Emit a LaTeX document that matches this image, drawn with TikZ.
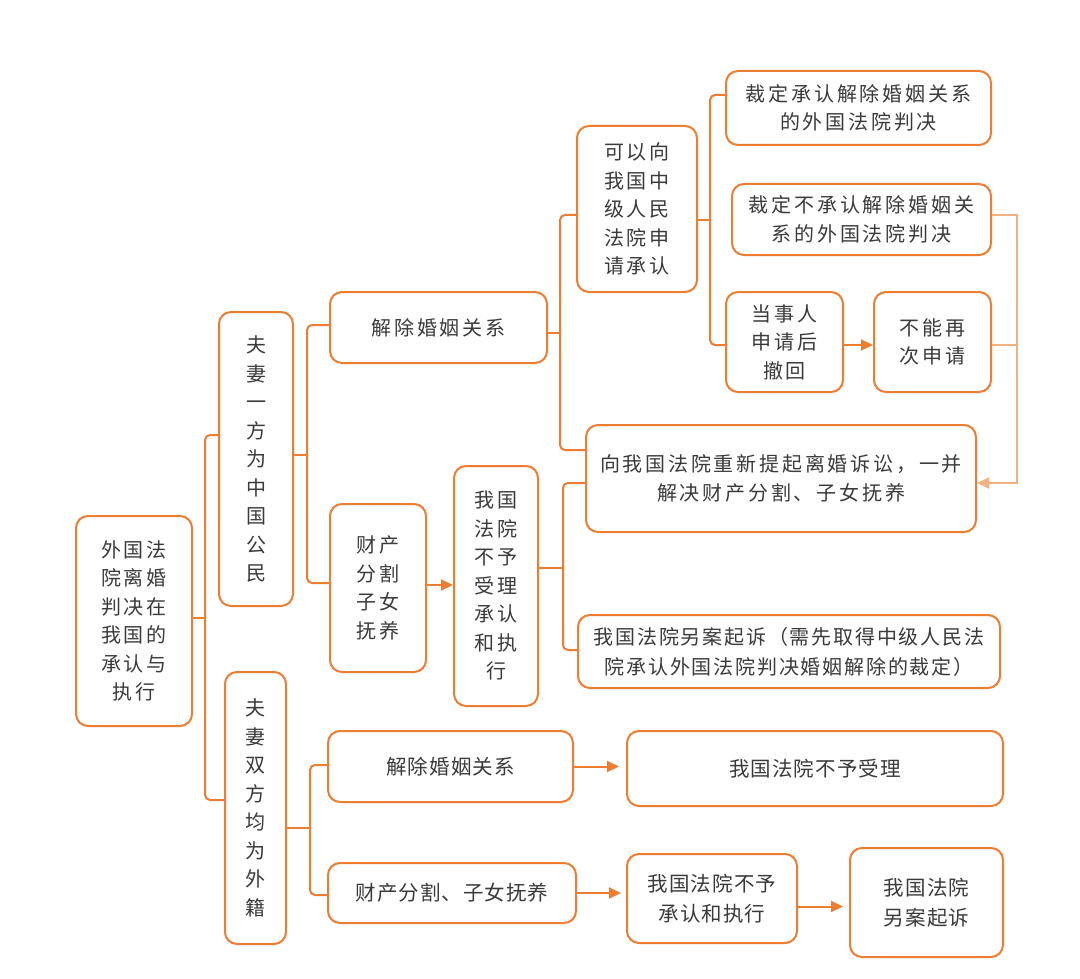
\documentclass[tikz,border=0pt]{standalone}
\usepackage{fontspec}
\newfontfamily\cjk[LetterSpace=14]{Noto Sans CJK SC}
\newfontfamily\cjkm[LetterSpace=9]{Noto Sans CJK SC}
\newfontfamily\cjkn[LetterSpace=5]{Noto Sans CJK SC}
\usetikzlibrary{arrows.meta}
\definecolor{org}{HTML}{ED7D31}
\definecolor{lorg}{HTML}{F4B183}
\definecolor{txt}{HTML}{3A3A3A}
\begin{document}
\begin{tikzpicture}[x=1pt,y=-1pt,
  box/.style={draw=org, line width=2pt, rounded corners=12pt, text=txt, align=center,
    inner sep=0pt, font=\cjk\fontsize{20}{28.5}\selectfont},
  mbox/.style={box, font=\cjkm\fontsize{20}{30}\selectfont},
  nbox/.style={box, font=\cjkn\fontsize{20.5}{30}\selectfont},
  conn/.style={draw=org, line width=2pt, rounded corners=5pt},
  arr/.style={draw=org, line width=2pt, -{Triangle[length=12pt,width=11pt]}},
  lconn/.style={draw=lorg, line width=2pt},
  larr/.style={draw=lorg, line width=2pt, -{Triangle[length=12pt,width=11pt]}}]
\useasboundingbox[fill=white] (0,0) rectangle (1080,979);

% boxes
\node[box, minimum width=116pt, minimum height=210pt] (root) at (134,621)
  {外国法\\院离婚\\判决在\\我国的\\承认与\\执行};
\node[box, minimum width=74pt, minimum height=294pt] (a1) at (256,459)
  {夫\\妻\\一\\方\\为\\中\\国\\公\\民};
\node[box, minimum width=61pt, minimum height=272pt] (a2) at (255.5,808)
  {夫\\妻\\双\\方\\均\\为\\外\\籍};
\node[box, minimum width=217pt, minimum height=71pt] (b1) at (438.5,327.5) {解除婚姻关系};
\node[box, minimum width=96pt, minimum height=168pt] (b2) at (378,588) {财产\\分割\\子女\\抚养};
\node[box, minimum width=84pt, minimum height=240pt] (c2) at (496,586)
  {我国\\法院\\不予\\受理\\承认\\和执\\行};
\node[box, minimum width=120pt, minimum height=166pt] (c1) at (637,209)
  {可以向\\我国中\\级人民\\法院申\\请承认};
\node[box, minimum width=265pt, minimum height=74pt] (d1) at (858.5,108)
  {裁定承认解除婚姻关系\\的外国法院判决};
\node[box, minimum width=259pt, minimum height=71pt] (d2) at (861.5,219.5)
  {裁定不承认解除婚姻关\\系的外国法院判决};
\node[box, minimum width=117pt, minimum height=100pt] (d3) at (784.5,342) {当事人\\申请后\\撤回};
\node[box, minimum width=117pt, minimum height=100pt] (d4) at (932.5,342) {不能再\\次申请};
\node[box, minimum width=390pt, minimum height=107pt] (e1) at (781,478.5)
  {向我国法院重新提起离婚诉讼，一并\\解决财产分割、子女抚养};
\node[mbox, minimum width=422pt, minimum height=73pt] (e2) at (789,651.5)
  {我国法院另案起诉（需先取得中级人民法\\院承认外国法院判决婚姻解除的裁定）};
\node[nbox, minimum width=245pt, minimum height=71pt] (f1) at (450.5,766.5) {解除婚姻关系};
\node[nbox, minimum width=376pt, minimum height=75pt] (g1) at (815,768.5) {我国法院不予受理};
\node[nbox, minimum width=248pt, minimum height=60pt] (f2) at (452,893) {财产分割、子女抚养};
\node[nbox, minimum width=170pt, minimum height=89pt] (g2) at (712,898.5) {我国法院不予\\承认和执行};
\node[nbox, minimum width=153pt, minimum height=109pt] (h2) at (926.5,902.5) {我国法院\\另案起诉};

% brace spines
\coordinate (s0) at (205,618);
\coordinate (s1) at (307,455);
\coordinate (s2) at (310,828);
\coordinate (s3) at (560,333);
\coordinate (s4) at (710,220);
\coordinate (s5) at (563,568);
\coordinate (rs) at (1017,483);

% braces
\draw[conn] (root.east |- s0) -- (s0);
\draw[conn] ([yshift=24pt]a1.west) -| (s0) |- ([yshift=8pt]a2.west);
\draw[conn] (a1.east |- s1) -- (s1);
\draw[conn] ([yshift=2.5pt]b1.west) -| (s1) |- ([yshift=5pt]b2.west);
\draw[conn] (a2.east |- s2) -- (s2);
\draw[conn] ([yshift=1.5pt]f1.west) -| (s2) |- ([yshift=-2pt]f2.west);
\draw[conn] (b1.east |- s3) -- (s3);
\draw[conn] ([yshift=-6pt]c1.west) -| (s3) |- ([yshift=28.5pt]e1.west);
\draw[conn] (c1.east |- s4) -- (s4);
\draw[conn] ([yshift=13pt]d1.west) -| (s4) |- ([yshift=-3pt]d3.west);
\draw[conn] (c2.east |- s5) -- (s5);
\draw[conn] ([yshift=-4.5pt]e1.west) -| (s5) |- ([yshift=1.5pt]e2.west);

% arrows
\draw[arr] ([yshift=3pt]b2.east) -- ([yshift=3pt]b2.east -| c2.west);
\draw[arr] ([yshift=-3pt]d3.east) -- ([yshift=-3pt]d3.east -| d4.west);
\draw[arr, shorten >=7pt] (f1.east) -- (f1.east -| g1.west);
\draw[arr, shorten >=5pt] (f2.east) -- (f2.east -| g2.west);
\draw[arr, shorten >=6pt] ([yshift=-8pt]g2.east) -- ([yshift=-8pt]g2.east -| h2.west);

% right connector
\draw[lconn] ([yshift=-3pt]d4.east) -- ([yshift=-3pt]d4.east -| rs);
\draw[larr] ([yshift=4.5pt]d2.east) -| (rs) -- (rs -| e1.east);
\end{tikzpicture}
\end{document}
